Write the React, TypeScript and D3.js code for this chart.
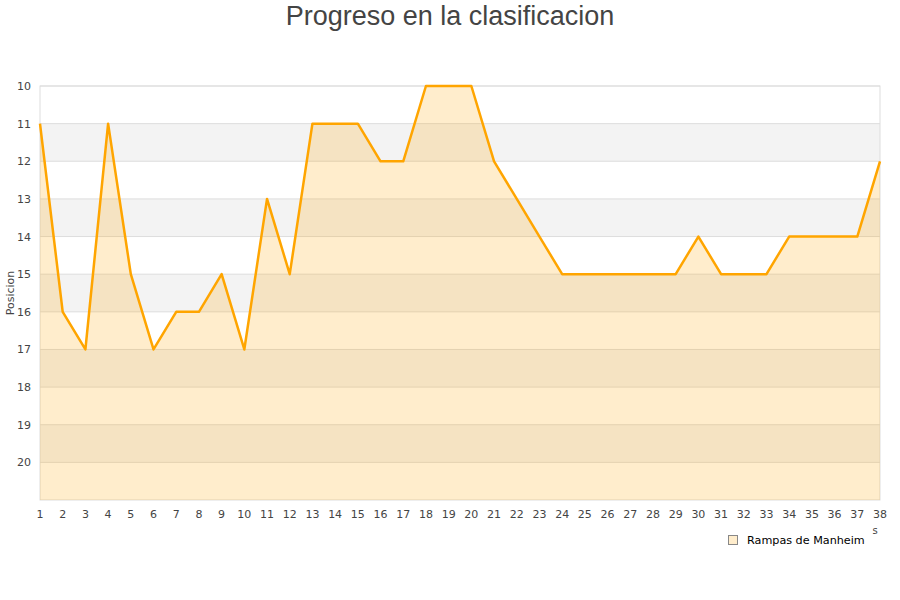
import React from "react";
import * as d3 from "d3";

const rounds = d3.range(1, 39);
const positions = [11, 16, 17, 11, 15, 17, 16, 16, 15, 17, 13, 15, 11, 11, 11, 12, 12, 10, 10, 10, 12, 13, 14, 15, 15, 15, 15, 15, 15, 14, 15, 15, 15, 14, 14, 14, 14, 12];
const yTicks = [10, 11, 12, 13, 14, 15, 16, 17, 18, 19, 20];
const title = "Progreso en la clasificacion";
const seriesName = "Rampas de Manheim";
const yTitle = "Posicion";

export default function App() {
  const W = 900, H = 600;
  const left = 40, right = 880, top = 86, bottom = 500;
  const x = d3.scaleLinear().domain([1, 38]).range([left, right]);
  const y = d3.scaleLinear().domain([10, 21]).range([top, bottom]);
  const data = rounds.map((r, i) => ({ r, p: positions[i] }));
  const line = d3.line<{ r: number; p: number }>().x(d => x(d.r)).y(d => y(d.p));
  const area = d3.area<{ r: number; p: number }>().x(d => x(d.r)).y0(y(21)).y1(d => y(d.p));
  const bands = d3.range(10, 21);
  const font = "DejaVu Sans, sans-serif";
  return (
    <svg width={W} height={H} style={{ position: "absolute", left: 0, top: 0 }}>
      <rect x={0} y={0} width={W} height={H} fill="#fff" />
      {bands.map(b => (
        <rect key={b} x={left} y={y(b)} width={right - left} height={y(b + 1) - y(b)} fill={b % 2 === 1 ? "#f3f3f3" : "#ffffff"} />
      ))}
      {yTicks.map(t => (
        <line key={t} x1={left} x2={right} y1={y(t)} y2={y(t)} stroke="#dddddd" strokeWidth={1} />
      ))}
      <rect x={left} y={top} width={right - left} height={bottom - top} fill="none" stroke="#dddddd" strokeWidth={1} />
      <path d={area(data) || ""} fill="#ffa500" fillOpacity={0.2} />
      <path d={line(data) || ""} fill="none" stroke="#ffa500" strokeWidth={2.5} strokeLinejoin="round" />
      {yTicks.map(t => (
        <text key={t} x={31} y={y(t) + 4} textAnchor="end" fontFamily={font} fontSize={11} fill="#444">{t}</text>
      ))}
      {rounds.map(r => (
        <text key={r} x={x(r)} y={518} textAnchor="middle" fontFamily={font} fontSize={11} fill="#444">{r}</text>
      ))}
      <text x={0} y={0} transform={`translate(14,293) rotate(-90)`} textAnchor="middle" fontFamily={font} fontSize={11} fill="#444">{yTitle}</text>
      <text x={450} y={25} textAnchor="middle" fontFamily="Liberation Sans, Arial, sans-serif" fontSize={27} fill="#444">{title}</text>
      <text x={875} y={534} textAnchor="middle" fontFamily={font} fontSize={10} fill="#444">s</text>
      <rect x={728.5} y={535.5} width={9} height={9} fill="#ffedcc" stroke="#888" strokeWidth={1} />
      <text x={747} y={544} fontFamily={font} fontSize={11.2} fill="#000">{seriesName}</text>
    </svg>
  );
}
